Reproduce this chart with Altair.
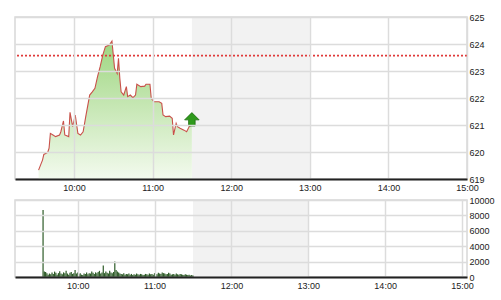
import altair as alt
import pandas as pd

# ---- data ----
price_times = ["09:33","09:35","09:36","09:37","09:40","09:41","09:42","09:44","09:46","09:49",
               "09:50","09:52","09:53","09:56","09:57","09:59","10:01","10:03","10:05","10:07",
               "10:09","10:12","10:14","10:16","10:18","10:20","10:22","10:24","10:27","10:29",
               "10:31","10:33","10:34","10:35","10:36","10:38","10:40","10:41","10:43","10:45",
               "10:47","10:48","10:51","10:54","10:55","10:58","10:59","11:01","11:05","11:07",
               "11:08","11:10","11:13","11:15","11:16","11:18","11:19","11:21","11:24","11:26",
               "11:28","11:30"]
price_values = [619.33,619.58,619.70,619.91,619.99,620.14,620.69,620.63,620.57,620.63,
                620.75,621.15,620.63,620.57,621.47,620.94,621.37,620.69,620.63,620.75,
                621.31,622.11,622.23,622.36,622.79,623.16,623.59,623.90,623.96,624.11,
                623.10,622.91,623.47,622.73,622.23,622.11,622.42,622.05,622.11,622.01,
                622.11,622.51,622.42,622.44,622.51,622.51,621.99,621.86,621.86,621.80,
                621.37,621.31,621.33,621.25,620.63,621.06,620.94,620.88,620.81,620.75,
                620.94,621.00]
reference_price = 623.57
last_time = "11:30"
last_price = 621.19

volume_start = "09:33"
volume_values = [8700,
                 700,650,500,300,450,350,600,
                 400,700,550,300,500,750,450,350,600,500,
                 800,450,300,550,650,400,500,900,450,600,
                 350,500,300,250,450,400,600,350,500,450,
                 700,550,400,600,500,650,800,450,600,1500,
                 500,700,550,450,800,600,500,650,2000,900,
                 700,600,450,400,350,500,300,400,350,450,
                 300,400,250,350,300,450,350,300,400,350,
                 250,300,400,350,300,450,350,400,300,500,
                 400,350,550,450,400,600,500,450,350,400,
                 550,450,300,350,400,300,450,350,300,400,
                 350,300,250,350,300,250,300,200,250,200]

break_start, break_end = "11:30", "13:00"
tick_labels = ["10:00", "11:00", "12:00", "13:00", "14:00", "15:00"]
price_ticks = [619, 620, 621, 622, 623, 624, 625]
volume_ticks = [0, 2000, 4000, 6000, 8000, 10000]
x_start, x_end = "09:15", "15:00"


def mins(s):
    h, m = s.split(":")
    return int(h) * 60 + int(m) - 540


price_df = pd.DataFrame({"t": [mins(s) for s in price_times], "price": price_values})
v0 = mins(volume_start)
vol_df = pd.DataFrame({"t": [v0 + i for i in range(len(volume_values))], "vol": volume_values})
brk_df = pd.DataFrame({"a": [mins(break_start)], "b": [mins(break_end)]})
ref_df = pd.DataFrame({"price": [reference_price]})
last_df = pd.DataFrame({"t": [mins(last_time)], "price": [last_price]})

tick_vals = [mins(s) for s in tick_labels]
label_expr = ""
for v, lab in zip(tick_vals, tick_labels):
    label_expr += f"datum.value == {v} ? '{lab}' : "
label_expr += "''"

FONT = "Liberation Sans"
W = 452
xscale = alt.Scale(domain=[mins(x_start), mins(x_end)], nice=False, zero=False)
pscale = alt.Scale(domain=[price_ticks[0], price_ticks[-1]], nice=False, zero=False)
vscale = alt.Scale(domain=[volume_ticks[0], volume_ticks[-1]], nice=False)


def xaxis():
    return alt.Axis(values=tick_vals, labelExpr=label_expr, title=None, ticks=False,
                    grid=True, gridColor="#dcdcdc", gridWidth=1.5, zindex=1,
                    domainColor="#222", domainWidth=2, labelFont=FONT, labelFontSize=9,
                    labelColor="#222", labelPadding=4, labelFlush=False,
                    labelOverlap=False)


def yaxis(vals):
    return alt.Axis(values=vals, orient="right", title=None, ticks=False, grid=True,
                    gridColor="#dcdcdc", gridWidth=1.5, domain=False, zindex=1,
                    labelFont=FONT, labelFontSize=9, labelColor="#222", labelPadding=2,
                    format="d", labelFlush=False, labelOverlap=False, tickCount=len(vals))


def X(f):
    return alt.X(f, scale=xscale, axis=xaxis())


def PY(f):
    return alt.Y(f, scale=pscale, axis=yaxis(price_ticks))


# ---- top panel ----
shade_top = alt.Chart(brk_df).mark_rect(color="#f2f2f2").encode(
    x=X("a:Q"), x2="b:Q", y=alt.value(0), y2=alt.value(162))

area = alt.Chart(price_df).mark_area(
    interpolate="linear",
    color=alt.Gradient(gradient="linear", x1=0, y1=0, x2=0, y2=1,
                       stops=[alt.GradientStop(color="#9ed680", offset=0),
                              alt.GradientStop(color="#f3faee", offset=1)])
).encode(x=X("t:Q"), y=PY("price:Q"), y2=alt.datum(619))

line = alt.Chart(price_df).mark_line(color="#c9504a", strokeWidth=1.1).encode(
    x=X("t:Q"), y=PY("price:Q"))

ref = alt.Chart(ref_df).mark_rule(color="#e03a3a", strokeDash=[2, 2], strokeWidth=1.6).encode(
    y=PY("price:Q"))

arrow = alt.Chart(last_df).mark_point(
    shape="M0,-1 L1,0 L0.45,0 L0.45,0.85 L-0.45,0.85 L-0.45,0 L-1,0 Z",
    size=210, filled=True, fill="#2f9a1c", stroke="#1d6b10", strokeWidth=0.8, opacity=1
).encode(x=X("t:Q"), y=PY("price:Q"))

top = alt.layer(shade_top, area, line, ref, arrow).properties(width=W, height=162)

# ---- bottom panel ----
shade_bot = alt.Chart(brk_df).mark_rect(color="#f2f2f2").encode(
    x=X("a:Q"), x2="b:Q", y=alt.value(0), y2=alt.value(77))

bars = alt.Chart(vol_df).mark_bar(color="#2e5c28", size=1.2).encode(
    x=X("t:Q"),
    y=alt.Y("vol:Q", scale=vscale, axis=yaxis(volume_ticks)))

bottom = alt.layer(shade_bot, bars).properties(width=W, height=77)

chart = alt.vconcat(top, bottom, spacing=21, bounds="flush").properties(
    padding={"left": 13, "top": 12, "right": 2, "bottom": 2},
    background="white"
).configure_view(stroke="#d8d8d8", strokeWidth=1.5)

chart.save("out.html", embed_options={"renderer": "svg", "actions": False})
